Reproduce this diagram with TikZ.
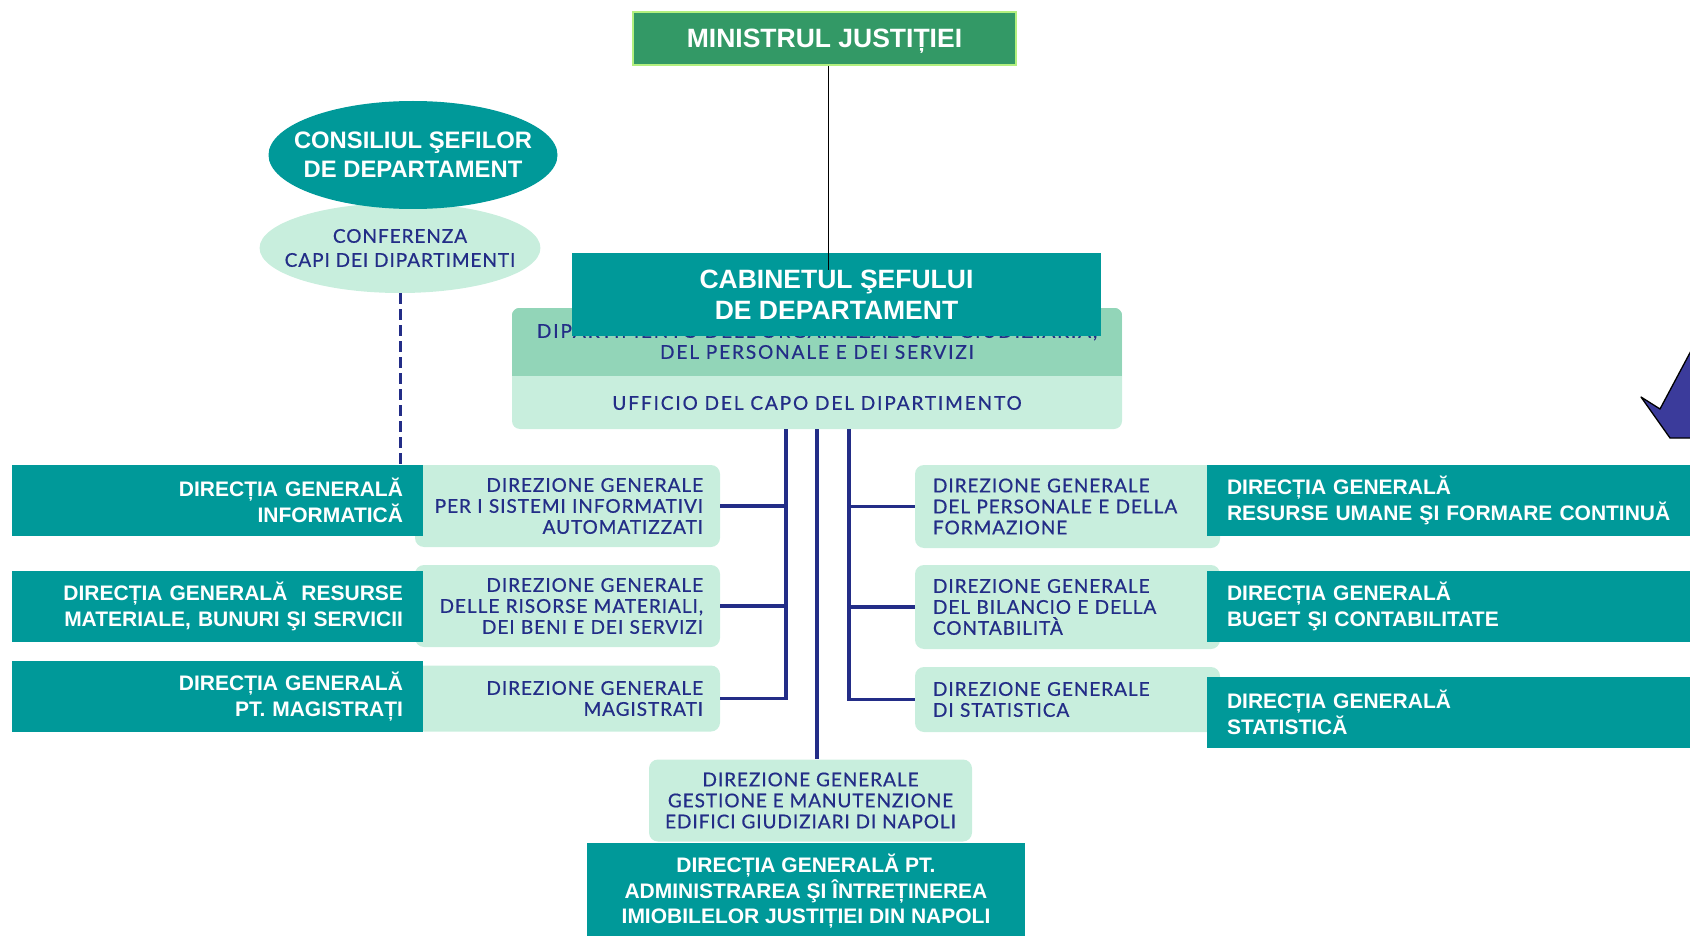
\documentclass[tikz,border=0pt]{standalone}
\usepackage{fontspec}
\setmainfont{Liberation Sans}
\newfontfamily\itfont{Lato}[LetterSpace=5,FakeBold=0.6]
\newfontfamily\deptfont{Lato}[LetterSpace=10,FakeBold=0.6]
\usetikzlibrary{shapes.geometric}
\definecolor{jteal}{RGB}{0,153,153}
\definecolor{jmint}{RGB}{200,238,221}
\definecolor{jmintdark}{RGB}{146,213,184}
\definecolor{jgreen}{RGB}{51,153,102}
\definecolor{jgreenrim}{RGB}{179,240,127}
\definecolor{jnavy}{RGB}{35,45,135}
\definecolor{jarrow}{RGB}{59,59,155}

\begin{document}
\begin{tikzpicture}[x=1pt,y=-1pt,
    robox/.style={fill=jteal,text=white,inner ysep=0pt,
        font=\bfseries\fontsize{21}{26}\selectfont},
    robig/.style={robox,font=\bfseries\fontsize{26.5}{31}\selectfont,align=center,text depth=0pt},
    rleft/.style={robox,text width=371,inner xsep=20,minimum height=71,align=right},
    rright/.style={robox,text width=460,inner xsep=20,minimum height=71,align=left},
    itbox/.style={fill=jmint,rounded corners=9,text=jnavy,inner ysep=0pt,
        font=\itfont\fontsize{19}{21}\selectfont},
    itleft/.style={itbox,text width=271,inner xsep=17,align=right},
    itright/.style={itbox,text width=269,inner xsep=18,align=left},
    bus/.style={jnavy,line width=3.2}]
    \useasboundingbox (0,0) rectangle (1690,936);
    \clip (0,0) rectangle (1690,936);

    \node[ellipse,fill=jmint,text=jnavy,inner xsep=-16pt,inner ysep=0pt,minimum width=280,minimum height=90,
        align=center,font=\itfont\fontsize{19}{24}\selectfont] (conf) at (400,248)
        {CONFERENZA\\CAPI DEI DIPARTIMENTI};
    \node[ellipse,fill=jteal,text=white,inner xsep=-17pt,inner ysep=0pt,minimum width=289,minimum height=108,
        align=center,font=\bfseries\fontsize{23.8}{29}\selectfont] (cons) at (413,155)
        {CONSILIUL ŞEFILOR\\DE DEPARTAMENT};

    \node[fill=jmint,rounded corners=8,minimum width=610,minimum height=121] (dept) at (817,368.5) {};
    \begin{scope}
        \clip[rounded corners=8] (dept.north west) rectangle (dept.south east);
        \fill[jmintdark] (dept.north west) rectangle ([yshift=-68pt]dept.north east);
    \end{scope}
    \node[text=jnavy,align=center,font=\deptfont\fontsize{19}{21}\selectfont] (deptname) at (817,341.5)
        {DIPARTIMENTO DELL'ORGANIZZAZIONE GIUDIZIARIA,\\DEL PERSONALE E DEI SERVIZI};
    \node[text=jnavy,font=\deptfont\fontsize{19}{21}\selectfont] (uffcapo) at (817,403)
        {UFFICIO DEL CAPO DEL DIPARTIMENTO};

    \node[robig,minimum width=529,minimum height=83] (cab) at (836.5,294.5)
        {CABINETUL ŞEFULUI\\DE DEPARTAMENT};
    \node[robig,fill=jgreen,draw=jgreenrim,line width=2,minimum width=383,minimum height=53] (min) at (824.5,38.5)
        {MINISTRUL JUSTIȚIEI};
    \draw[line width=1.3] ([xshift=4pt]min.south) -- ([xshift=4pt]min.south |- cab.north) -- ++(0,17);

    \foreach \n/\y/\h/\t in {dgsia/506/82/{DIREZIONE GENERALE\\PER I SISTEMI INFORMATIVI\\AUTOMATIZZATI},
        dgrm/606/82/{DIREZIONE GENERALE\\DELLE RISORSE MATERIALI,\\DEI BENI E DEI SERVIZI},
        dgmag/698.5/66/{DIREZIONE GENERALE\\MAGISTRATI}}
    {
        \node[itleft,minimum height=\h] (\n) at (567.5,\y) {\t};
    }
    \foreach \n/\y/\h/\t in {dgpf/506.5/83/{DIREZIONE GENERALE\\DEL PERSONALE E DELLA\\FORMAZIONE},
        dgbc/607/84/{DIREZIONE GENERALE\\DEL BILANCIO E DELLA\\CONTABILITÀ},
        dgstat/699.5/65/{DIREZIONE GENERALE\\DI STATISTICA}}
    {
        \node[itright,minimum height=\h] (\n) at (1067.5,\y) {\t};
    }
    \node[itbox,align=center,minimum width=323,minimum height=82] (dgnap) at (810.5,800.5)
        {DIREZIONE GENERALE\\GESTIONE E MANUTENZIONE\\EDIFICI GIUDIZIARI DI NAPOLI};

    \coordinate (busL) at ([xshift=-31pt]dept.south);
    \coordinate (busR) at ([xshift=32pt]dept.south);
    \draw[bus] (busL) -- (busL |- dgmag.east) -- (dgmag.east);
    \draw[bus] (busR) -- (busR |- dgstat.west) -- (dgstat.west);
    \draw[bus] (dept.south) -- (dept.south |- dgnap.north);
    \foreach \n in {dgsia,dgrm}
        \draw[bus] (\n.east) -- (\n.east -| busL);
    \foreach \n in {dgpf,dgbc}
        \draw[bus] (\n.west) -- (\n.west -| busR);

    \foreach \n/\y/\t in {roinf/500.5/{DIRECȚIA GENERALĂ\\INFORMATICĂ},
        rores/606.5/{DIRECȚIA GENERALĂ\ \ RESURSE\\MATERIALE, BUNURI ŞI SERVICII},
        romag/696.5/{DIRECȚIA GENERALĂ\\PT. MAGISTRAȚI}}
    {
        \node[rleft] (\n) at (217.5,\y) {\t};
    }
    \foreach \n/\y/\t in {rorum/500.5/{DIRECȚIA GENERALĂ\\RESURSE UMANE ŞI FORMARE CONTINUĂ},
        robug/606.5/{DIRECȚIA GENERALĂ\\BUGET ŞI CONTABILITATE},
        rostat/712.5/{DIRECȚIA GENERALĂ\\STATISTICĂ}}
    {
        \node[rright] (\n) at (1457,\y) {\t};
    }
    \node[robox,align=center,minimum width=438,minimum height=97,
        font=\bfseries\fontsize{21}{25.5}\selectfont] (ronap) at (806,891.5)
        {DIRECȚIA GENERALĂ PT.\\ADMINISTRAREA ŞI ÎNTREȚINEREA\\IMIOBILELOR JUSTIȚIEI DIN NAPOLI};

    \draw[jnavy,line width=3,dash pattern=on 11pt off 5pt] (conf.south) -- (conf.south |- roinf.north);

    \draw[fill=jarrow,line width=1.3,line join=round] (1700,334) -- (1660,409) -- (1641,397)
        -- (1670,438) -- (1700,438);
\end{tikzpicture}
\end{document}
